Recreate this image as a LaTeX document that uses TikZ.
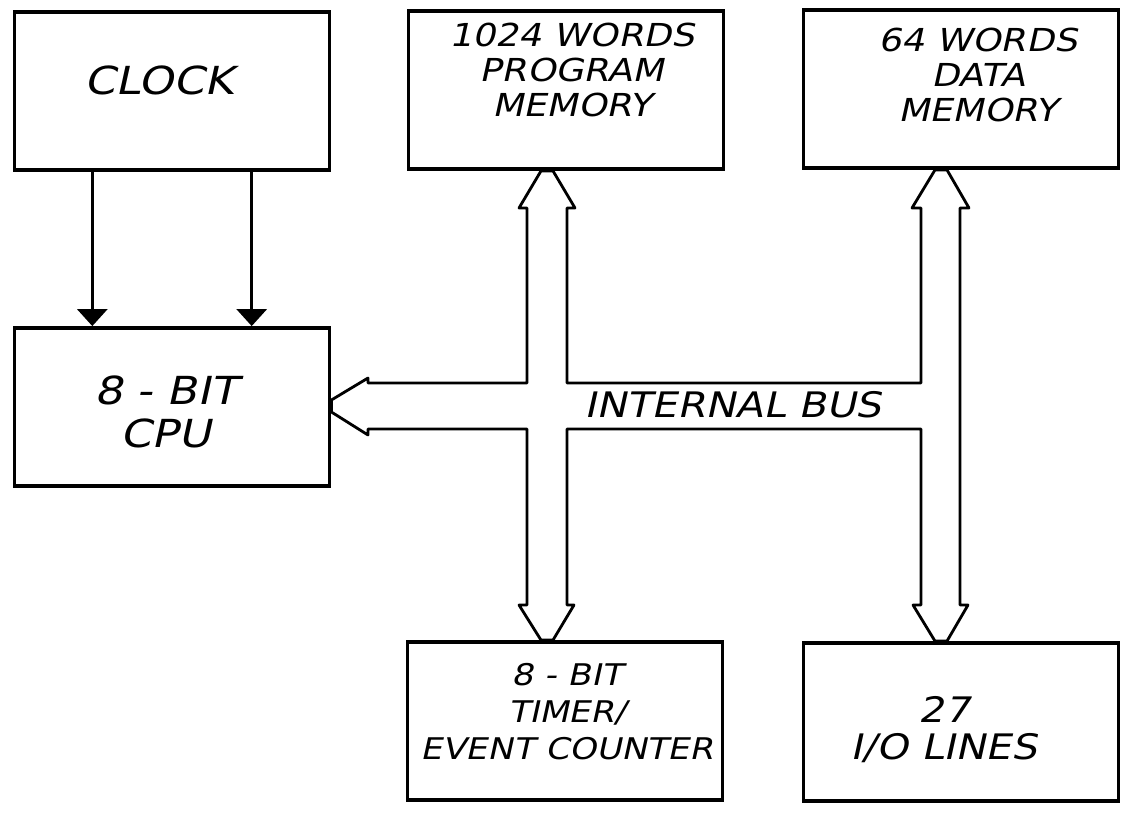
\documentclass[tikz,border=0pt]{standalone}
\usepackage{fontspec}
\usepackage{tikz}
\usetikzlibrary{positioning,calc,arrows.meta}
\newfontfamily\handfont[FakeSlant=0.22,FakeStretch=1.15]{DejaVu Sans}

\begin{document}
\begin{tikzpicture}[x=0.02cm, y=-0.02cm,
    unit/.style={draw, rectangle, line width=2.2pt, minimum width=6.3cm, minimum height=3.16cm},
    hand/.style={align=center, font=\handfont\fontsize{18}{20}\selectfont},
    bigger/.style={font=\handfont\fontsize{22}{24}\selectfont},
    clk/.style={line width=1.6pt, -{Triangle[width=17pt, length=9.6pt]}},
    bus/.style={line width=1.6pt, line join=round}]
    \useasboundingbox (0,0) rectangle (1129,815);

    % Clock and CPU
    \node[unit] (clock) at (172,91) {};
    \node[hand, bigger] (clocktxt) at (159,80) {CLOCK};
    \node[unit] (cpu) at (172,407) {};
    \node[hand, bigger] (cputxt) at (166,412) {8 - BIT\\CPU};

    % Memories
    \node[unit] (prog) at (566,90) {};
    \node[hand] (progtxt) at (572,70) {1024 WORDS\\PROGRAM\\MEMORY};
    \node[unit] (data) at (961,89) {};
    \node[hand] (datatxt) at (978,75) {64 WORDS\\DATA\\MEMORY};

    % Timer and I/O
    \node[unit] (timer) at (565,721) {};
    \node[hand, font=\handfont\fontsize{17}{21}\selectfont] (timertxt) at (567,712) {8 - BIT\\TIMER/\\EVENT COUNTER};
    \node[unit] (io) at (961,722) {};
    \node[hand, font=\handfont\fontsize{20}{21}\selectfont] (iotxt) at (944,730) {27\\I/O LINES};

    % Clock lines
    \draw[clk] ($(clock.south west)!0.25!(clock.south east)$) -- ($(cpu.north west)!0.25!(cpu.north east)$);
    \draw[clk] ($(clock.south west)!0.75!(clock.south east)$) -- ($(cpu.north west)!0.75!(cpu.north east)$);

    % Internal bus
    \coordinate (pb) at (547,0);
    \coordinate (db) at (941,0);
    \coordinate (hb) at (0,406);
    \draw[bus] (527,383) -- (527,208) -- (519,208)
        -- ($(pb |- prog.south)+(-6,0)$) -- ($(pb |- prog.south)+(6,0)$)
        -- (575,208) -- (567,208) -- (567,383)
        -- (921,383) -- (921,208) -- (912,208)
        -- ($(db |- data.south)+(-6,0)$) -- ($(db |- data.south)+(6,0)$)
        -- (969,208) -- (960,208) -- (960,605) -- (968,605)
        -- ($(db |- io.north)+(6,0)$) -- ($(db |- io.north)+(-6,0)$)
        -- (913,605) -- (921,605) -- (921,429)
        -- (567,429) -- (567,605) -- (574,605)
        -- ($(pb |- timer.north)+(6,0)$) -- ($(pb |- timer.north)+(-6,0)$)
        -- (519,605) -- (527,605) -- (527,429)
        -- (368,429) -- (368,435)
        -- ($(hb -| cpu.east)+(0,6)$) -- ($(hb -| cpu.east)+(0,-6)$)
        -- (368,378) -- (368,383) -- cycle;
    \node[hand, font=\handfont\fontsize{20}{21}\selectfont] (buslabel) at (733,405) {INTERNAL BUS};
\end{tikzpicture}
\end{document}
